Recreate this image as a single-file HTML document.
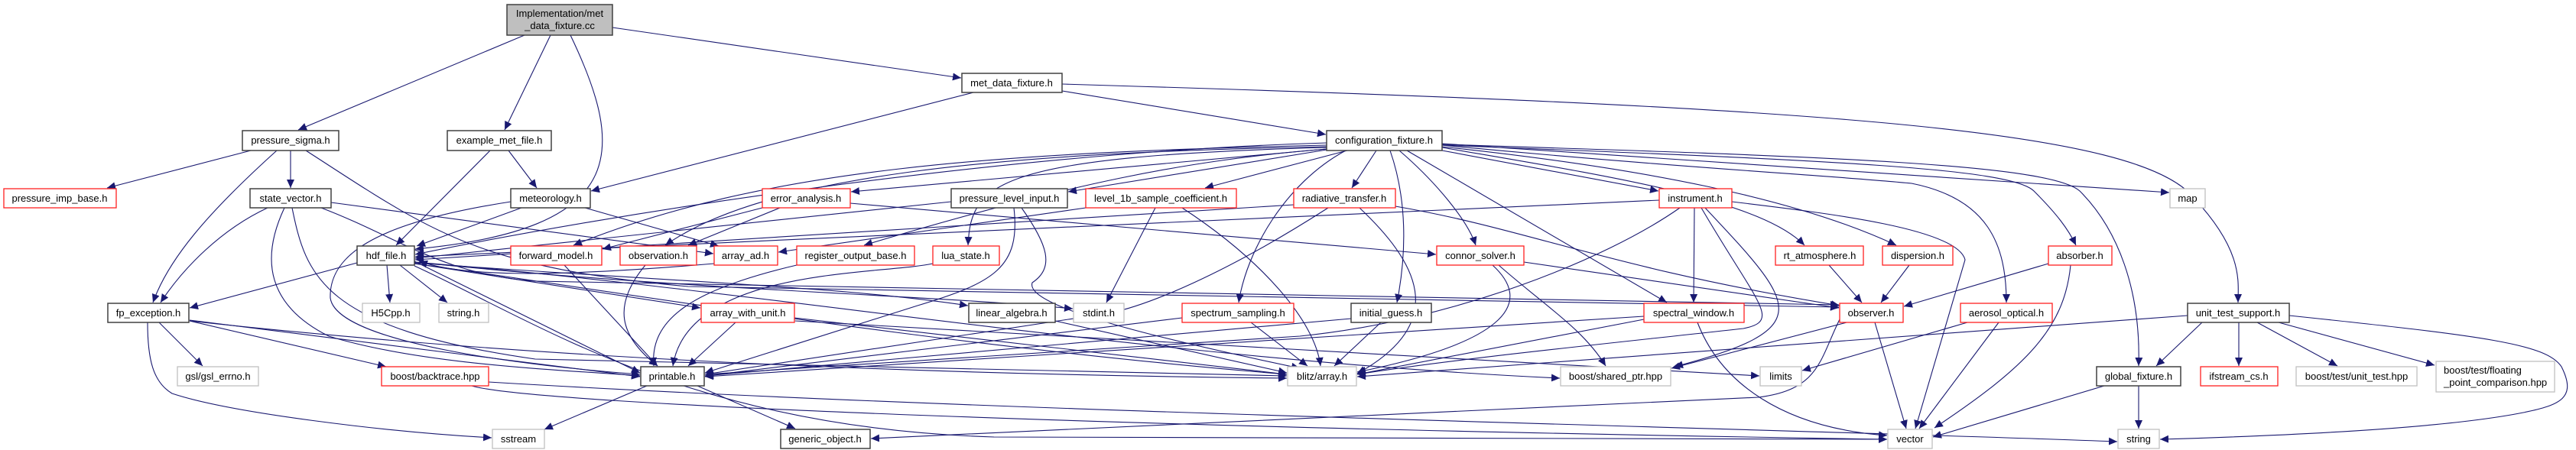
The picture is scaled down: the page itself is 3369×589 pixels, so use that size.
<!DOCTYPE html>
<html><head><meta charset="utf-8"><style>
html,body{margin:0;padding:0;background:#fff;}
svg{display:block;}
text{font-family:"Liberation Sans",Arial,sans-serif;font-size:13px;fill:#000;}
.b{fill:#fff;stroke:#404040;stroke-width:1.5}
.r{fill:#fff;stroke:#ff2020;stroke-width:1.3}
.g{fill:#fff;stroke:#c0c0c0;stroke-width:1.3}
.e path{fill:none;stroke:#191970;stroke-width:1.1;marker-end:url(#a)}
</style></head><body>
<svg width="3369" height="589" viewBox="0 0 3369 589" xmlns="http://www.w3.org/2000/svg">
<defs><marker id="a" markerUnits="userSpaceOnUse" markerWidth="12" markerHeight="10" refX="11" refY="5" orient="auto"><path d="M0,0 L11,5 L0,10 z" fill="#191970"/></marker></defs>
<g class="e">
<path d="M686 46 L390 170"/>
<path d="M720 46 L660 170"/>
<path d="M801 36 L1257 102"/>
<path d="M746 46 C820 200,820 300,543 326"/>
<path d="M1273 121 L773 250"/>
<path d="M1389 119 L1734 176"/>
<path d="M1389 110 C2400 140,2800 170,2870 260 C2935 330,2927 370,2927 396"/>
<path d="M641 197 L518 321"/>
<path d="M665 197 L702 246"/>
<path d="M328 197 L140 246"/>
<path d="M380 197 L380 246"/>
<path d="M362 197 C270 280,220 340,200 396"/>
<path d="M400 197 C560 300,620 350,900 375 L2405 402"/>
<path d="M350 272 C290 300,240 350,210 396"/>
<path d="M372 272 C340 340,350 400,430 440 C560 480,760 485,837 492"/>
<path d="M382 272 C400 360,420 430,700 470 L1683 492"/>
<path d="M433 265 L933 332"/>
<path d="M420 272 C520 310,580 360,700 368 L2405 399"/>
<path d="M682 272 L545 322"/>
<path d="M765 272 L940 322"/>
<path d="M668 264 C500 290,430 330,432 390 C440 450,700 480,837 490"/>
<path d="M467 344 L248 403"/>
<path d="M506 347 L510 396"/>
<path d="M523 347 L585 396"/>
<path d="M542 342 L837 488"/>
<path d="M542 345 C800 380,1200 450,1683 490"/>
<path d="M542 345 L916 403"/>
<path d="M542 343 C900 380,1200 385,1403 404"/>
<path d="M542 344 C900 370,1100 375,1266 400"/>
<path d="M542 343 C1000 380,1500 470,2040 495"/>
<path d="M542 348 C700 420,900 560,1300 572 L2468 575"/>
<path d="M208 422 L265 479"/>
<path d="M248 420 L505 480"/>
<path d="M193 422 C193 470,200 500,225 515 C300 540,500 565,643 573"/>
<path d="M248 419 L837 493"/>
<path d="M248 420 C700 470,1200 490,1683 495"/>
<path d="M639 500 C1300 540,2300 560,2769 578"/>
<path d="M617 505 C700 530,1500 560,2468 575"/>
<path d="M846 505 L712 562"/>
<path d="M912 505 L1040 561"/>
<path d="M738 347 L860 479"/>
<path d="M844 347 C800 400,810 440,860 479"/>
<path d="M934 345 C700 365,600 360,548 342"/>
<path d="M1042 347 C900 380,850 420,855 479"/>
<path d="M1220 345 C1150 360,900 350,880 479"/>
<path d="M962 422 L900 479"/>
<path d="M1039 416 L1683 490"/>
<path d="M1040 420 L2301 492"/>
<path d="M997 272 L788 326"/>
<path d="M1020 272 L900 321"/>
<path d="M1112 266 L1878 333"/>
<path d="M1244 264 L543 338"/>
<path d="M1326 272 C1335 350,1300 370,1200 400 L922 488"/>
<path d="M1336 272 C1370 320,1380 350,1350 370 C1340 400,1500 440,1700 482"/>
<path d="M1420 272 L1018 330"/>
<path d="M1511 272 L1447 396"/>
<path d="M1546 272 C1650 340,1720 420,1727 479"/>
<path d="M1692 268 L543 340"/>
<path d="M1737 272 C1600 360,1500 400,1450 410 L922 490"/>
<path d="M1778 272 C1850 340,1900 420,1775 489"/>
<path d="M1825 270 C2000 300,2100 350,2406 400"/>
<path d="M1735 195 L1113 251"/>
<path d="M1735 196 L1397 251"/>
<path d="M1762 197 L1576 246"/>
<path d="M1800 197 L1768 246"/>
<path d="M1760 197 C1680 240,1630 330,1620 396"/>
<path d="M1818 197 C1840 260,1840 330,1827 396"/>
<path d="M1830 197 C1880 240,1920 290,1930 321"/>
<path d="M1840 197 L2180 396"/>
<path d="M1886 197 L2169 250"/>
<path d="M1886 193 C2100 230,2300 260,2360 321"/>
<path d="M1886 192 C2150 220,2350 260,2480 321"/>
<path d="M1886 190 C2200 220,2400 230,2500 240 C2600 260,2624 320,2624 396"/>
<path d="M1886 190 C2400 210,2630 220,2660 250 C2690 280,2705 300,2715 321"/>
<path d="M1886 189 C2400 205,2680 215,2720 250 C2770 300,2800 380,2797 479"/>
<path d="M1886 188 L2837 252"/>
<path d="M1735 187 C1300 200,800 280,543 333"/>
<path d="M1735 190 C1300 200,1000 220,750 321"/>
<path d="M1735 192 C1300 200,1000 230,870 321"/>
<path d="M1735 195 C1550 210,1400 240,1130 321"/>
<path d="M1735 193 C1300 205,1270 240,1266 321"/>
<path d="M2170 262 L543 336"/>
<path d="M2197 272 C2100 340,1900 420,1700 440 L922 490"/>
<path d="M2216 272 L2215 396"/>
<path d="M2225 272 C2300 400,2330 420,2280 430 C2100 450,1900 470,1775 490"/>
<path d="M2230 272 C2350 400,2380 430,2190 480"/>
<path d="M2265 264 C2400 280,2560 300,2570 340 L2505 561"/>
<path d="M1993 343 L2405 403"/>
<path d="M1952 347 C2010 400,1960 450,1775 487"/>
<path d="M1960 347 C2020 400,2070 430,2100 479"/>
<path d="M2392 347 L2435 396"/>
<path d="M2497 347 L2460 396"/>
<path d="M2679 345 L2490 401"/>
<path d="M2708 347 C2700 430,2650 480,2530 560"/>
<path d="M2150 414 L922 493"/>
<path d="M2220 422 C2250 500,2330 560,2468 570"/>
<path d="M2150 418 L1775 490"/>
<path d="M2406 418 C2380 470,2380 510,2300 520 L1139 574"/>
<path d="M2452 422 L2493 561"/>
<path d="M2415 422 L2186 482"/>
<path d="M2573 422 L2357 485"/>
<path d="M2614 422 L2510 561"/>
<path d="M1767 417 L922 492"/>
<path d="M1806 422 L1745 479"/>
<path d="M1546 416 L922 492"/>
<path d="M1636 422 L1710 479"/>
<path d="M1380 420 L1683 488"/>
<path d="M2880 422 L2820 479"/>
<path d="M2928 422 L2928 479"/>
<path d="M2952 422 L3057 479"/>
<path d="M2980 422 L3184 478"/>
<path d="M2994 413 C3250 440,3330 450,3350 480 C3370 520,3350 530,3300 540 C3200 560,3000 570,2825 575"/>
<path d="M2861 413 L1775 493"/>
<path d="M2752 505 L2528 572"/>
<path d="M2797 505 L2797 561"/>
</g>
<g text-anchor="middle">
<rect x="663" y="6" width="138" height="40" fill="#bfbfbf" stroke="#404040" stroke-width="1.5"/>
<text x="732" y="22">Implementation/met</text><text x="732" y="38">_data_fixture.cc</text>
<rect class="b" x="1258" y="96" width="131" height="25"/><text x="1323" y="113">met_data_fixture.h</text>
<rect class="b" x="317" y="171" width="126" height="26"/><text x="380" y="188">pressure_sigma.h</text>
<rect class="b" x="585" y="171" width="136" height="26"/><text x="653" y="188">example_met_file.h</text>
<rect class="b" x="1735" y="171" width="151" height="26"/><text x="1810" y="188">configuration_fixture.h</text>
<rect class="r" x="5" y="247" width="147" height="25"/><text x="78" y="264">pressure_imp_base.h</text>
<rect class="b" x="327" y="247" width="106" height="25"/><text x="380" y="264">state_vector.h</text>
<rect class="b" x="668" y="247" width="104" height="25"/><text x="720" y="264">meteorology.h</text>
<rect class="r" x="997" y="247" width="115" height="25"/><text x="1054" y="264">error_analysis.h</text>
<rect class="b" x="1244" y="247" width="152" height="25"/><text x="1320" y="264">pressure_level_input.h</text>
<rect class="r" x="1420" y="247" width="197" height="25"/><text x="1518" y="264">level_1b_sample_coefficient.h</text>
<rect class="r" x="1692" y="247" width="133" height="25"/><text x="1758" y="264">radiative_transfer.h</text>
<rect class="r" x="2170" y="247" width="95" height="25"/><text x="2217" y="264">instrument.h</text>
<rect class="g" x="2838" y="247" width="46" height="25"/><text x="2861" y="264">map</text>
<rect class="b" x="467" y="322" width="75" height="25"/><text x="505" y="339">hdf_file.h</text>
<rect class="r" x="668" y="322" width="119" height="25"/><text x="727" y="339">forward_model.h</text>
<rect class="r" x="811" y="322" width="100" height="25"/><text x="861" y="339">observation.h</text>
<rect class="r" x="934" y="322" width="83" height="25"/><text x="975" y="339">array_ad.h</text>
<rect class="r" x="1042" y="322" width="154" height="25"/><text x="1119" y="339">register_output_base.h</text>
<rect class="r" x="1220" y="322" width="87" height="25"/><text x="1263" y="339">lua_state.h</text>
<rect class="r" x="1879" y="322" width="114" height="25"/><text x="1936" y="339">connor_solver.h</text>
<rect class="r" x="2322" y="322" width="115" height="25"/><text x="2380" y="339">rt_atmosphere.h</text>
<rect class="r" x="2462" y="322" width="92" height="25"/><text x="2508" y="339">dispersion.h</text>
<rect class="r" x="2679" y="322" width="83" height="25"/><text x="2720" y="339">absorber.h</text>
<rect class="b" x="141" y="397" width="106" height="25"/><text x="194" y="414">fp_exception.h</text>
<rect class="g" x="474" y="397" width="75" height="25"/><text x="511" y="414">H5Cpp.h</text>
<rect class="g" x="574" y="397" width="65" height="25"/><text x="606" y="414">string.h</text>
<rect class="r" x="917" y="397" width="122" height="25"/><text x="978" y="414">array_with_unit.h</text>
<rect class="b" x="1267" y="397" width="113" height="25"/><text x="1323" y="414">linear_algebra.h</text>
<rect class="g" x="1404" y="397" width="66" height="25"/><text x="1437" y="414">stdint.h</text>
<rect class="r" x="1546" y="397" width="146" height="25"/><text x="1619" y="414">spectrum_sampling.h</text>
<rect class="b" x="1767" y="397" width="105" height="25"/><text x="1819" y="414">initial_guess.h</text>
<rect class="r" x="2150" y="397" width="131" height="25"/><text x="2215" y="414">spectral_window.h</text>
<rect class="r" x="2406" y="397" width="83" height="25"/><text x="2447" y="414">observer.h</text>
<rect class="r" x="2564" y="397" width="120" height="25"/><text x="2624" y="414">aerosol_optical.h</text>
<rect class="b" x="2861" y="397" width="133" height="25"/><text x="2927" y="414">unit_test_support.h</text>
<rect class="g" x="232" y="480" width="106" height="25"/><text x="285" y="497">gsl/gsl_errno.h</text>
<rect class="r" x="499" y="480" width="140" height="25"/><text x="569" y="497">boost/backtrace.hpp</text>
<rect class="b" x="838" y="480" width="83" height="25"/><text x="879" y="497">printable.h</text>
<rect class="g" x="1684" y="480" width="90" height="25"/><text x="1729" y="497">blitz/array.h</text>
<rect class="g" x="2041" y="480" width="144" height="25"/><text x="2113" y="497">boost/shared_ptr.hpp</text>
<rect class="g" x="2302" y="480" width="54" height="25"/><text x="2329" y="497">limits</text>
<rect class="b" x="2742" y="480" width="110" height="25"/><text x="2797" y="497">global_fixture.h</text>
<rect class="r" x="2878" y="480" width="101" height="25"/><text x="2928" y="497">ifstream_cs.h</text>
<rect class="g" x="3003" y="480" width="158" height="25"/><text x="3082" y="497">boost/test/unit_test.hpp</text>
<rect class="g" x="3186" y="473" width="155" height="40"/>
<text x="3196" y="489" text-anchor="start">boost/test/floating</text><text x="3196" y="505" text-anchor="start">_point_comparison.hpp</text>
<rect class="g" x="644" y="562" width="68" height="25"/><text x="678" y="579">sstream</text>
<rect class="b" x="1021" y="562" width="117" height="25"/><text x="1079" y="579">generic_object.h</text>
<rect class="g" x="2469" y="562" width="58" height="25"/><text x="2498" y="579">vector</text>
<rect class="g" x="2770" y="562" width="54" height="25"/><text x="2797" y="579">string</text>
</g>
</svg>
</body></html>
